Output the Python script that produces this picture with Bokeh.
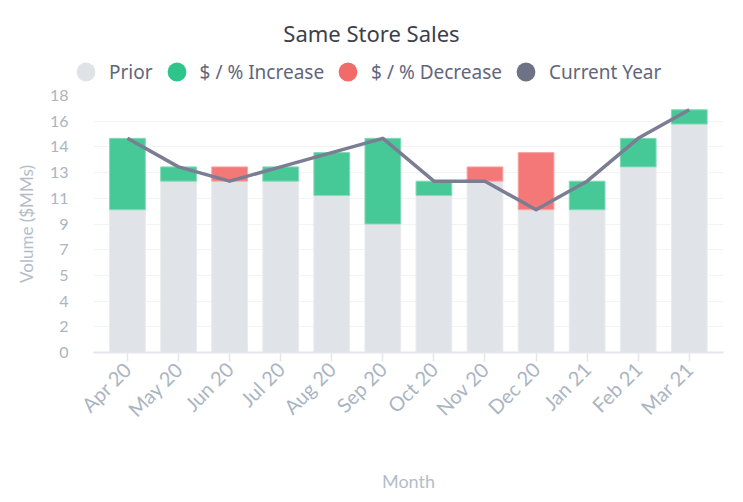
import numpy as np
from bokeh.plotting import figure
from bokeh.models import (ColumnDataSource, FixedTicker, Legend, LegendItem,
                          Range1d, Label)
from bokeh.embed import file_html
from bokeh.resources import INLINE

# ---------------- data ----------------
months = ["Apr 20", "May 20", "Jun 20", "Jul 20", "Aug 20", "Sep 20",
          "Oct 20", "Nov 20", "Dec 20", "Jan 21", "Feb 21", "Mar 21"]
prior = [10, 12, 13, 12, 11, 9, 11, 13, 14, 10, 13, 16]
current = [15, 13, 12, 13, 14, 15, 12, 12, 10, 12, 15, 17]
y_tick_values = [0, 1.8, 3.6, 5.4, 7.2, 9, 10.8, 12.6, 14.4, 16.2, 18]
y_tick_labels = ["0", "2", "4", "5", "7", "9", "11", "13", "14", "16", "18"]
legend_labels = ["Prior", "$ / % Increase", "$ / % Decrease", "Current Year"]
title_text = "Same Store Sales"

# ---------------- derived ----------------
xs = np.arange(len(months))
pr = np.array(prior, dtype=float)
cu = np.array(current, dtype=float)
base = np.minimum(pr, cu)
inc = cu > pr
dec = cu < pr

src_base = ColumnDataSource(dict(x=xs, top=base))
src_inc = ColumnDataSource(dict(x=xs[inc], bottom=pr[inc], top=cu[inc]))
src_dec = ColumnDataSource(dict(x=xs[dec], bottom=cu[dec], top=pr[dec]))
src_line = ColumnDataSource(dict(x=xs, y=cu))

W = 735
TOP_H = 86
MAIN_H = 408

# ---------------- header (title + legend) ----------------
top = figure(width=W, height=TOP_H,
             x_range=Range1d(-0.665, len(months) - 1 + 0.67), y_range=Range1d(0, 18),
             output_backend="svg", toolbar_location=None,
             x_axis_location=None, y_axis_location=None,
             min_border=0, min_border_left=0, min_border_right=0,
             min_border_top=0, min_border_bottom=0)
top.title = None
top.outline_line_color = None
top.xgrid.visible = False
top.ygrid.visible = False

top.add_layout(Label(x=371, y=TOP_H - 32, x_units="screen", y_units="screen",
                     text=title_text, text_align="center", text_baseline="middle",
                     text_font="Noto Sans", text_font_size="22px",
                     text_color="#3d404c"))

leg_colors = ["#dfe2e6", "#2fc48b", "#f26b6b", "#6f7287"]
items = []
for lab, col in zip(legend_labels, leg_colors):
    r = top.scatter(x="x", y="y", source=src_line, marker="circle", size=19,
                    fill_color=col, line_alpha=0, visible=False)
    items.append(LegendItem(label=lab, renderers=[r]))

legend = Legend(items=items, orientation="horizontal",
                glyph_width=47, glyph_height=47, label_standoff=0,
                spacing=0, padding=0, margin=0,
                border_line_alpha=0, background_fill_alpha=0,
                label_text_font="Noto Sans", label_text_font_size="19px",
                label_text_color="#62667b", location=(62, -9))
top.add_layout(legend, "center")

# ---------------- main chart ----------------
p = figure(width=W, height=MAIN_H,
           x_range=Range1d(-0.665, len(months) - 1 + 0.67),
           y_range=Range1d(0, 18),
           output_backend="svg", toolbar_location=None,
           min_border_left=93, min_border_right=12,
           min_border_top=9, min_border_bottom=142)
p.title = None
p.outline_line_color = None

bw = 0.7
p.vbar(x="x", bottom=0, top="top", width=bw, source=src_base,
       fill_color="#e0e3e7", line_color="#e9ebee", line_width=1)
p.vbar(x="x", bottom="bottom", top="top", width=bw, source=src_inc,
       fill_color="#47c897", line_color="#82d9b7", line_width=1)
p.vbar(x="x", bottom="bottom", top="top", width=bw, source=src_dec,
       fill_color="#f47878", line_color="#f8a6a6", line_width=1)
p.line(x="x", y="y", source=src_line, line_color="#7b7e92", line_width=3.5,
       line_join="round")

# y axis
ya = p.yaxis[0]
ya.ticker = FixedTicker(ticks=y_tick_values)
ya.major_label_overrides = {v: l for v, l in zip(y_tick_values, y_tick_labels)}
ya.axis_line_alpha = 0
ya.major_tick_out = 0
ya.major_tick_in = 0
ya.minor_tick_out = 0
ya.minor_tick_in = 0
ya.major_label_standoff = 25
ya.major_label_text_font = "Lato"
ya.major_label_text_font_size = "16px"
ya.major_label_text_color = "#aab5c3"
ya.axis_label = "Volume ($MMs)"
ya.axis_label_text_font = "Lato"
ya.axis_label_text_font_size = "17px"
ya.axis_label_text_font_style = "normal"
ya.axis_label_text_color = "#b3bdc9"
ya.axis_label_standoff = 10

# x axis
xa = p.xaxis[0]
xa.ticker = FixedTicker(ticks=list(xs))
xa.major_label_overrides = {int(i): m for i, m in zip(xs, months)}
xa.major_label_orientation = np.pi / 4
xa.major_label_text_font = "Lato"
xa.major_label_text_font_size = "20px"
xa.major_label_text_color = "#aab5c3"
xa.major_label_standoff = 4
xa.axis_line_color = "#e3e6ea"
xa.axis_line_width = 2
xa.major_tick_out = 9
xa.major_tick_in = 0
xa.major_tick_line_color = "#e3e6ea"
xa.major_tick_line_width = 1.5
xa.minor_tick_out = 0
xa.minor_tick_in = 0
xa.axis_label = "Month"
xa.axis_label_text_font = "Lato"
xa.axis_label_text_font_size = "18px"
xa.axis_label_text_font_style = "normal"
xa.axis_label_text_color = "#b3bdc9"
xa.axis_label_standoff = 37

p.xgrid.visible = False
p.ygrid.grid_line_color = "#f2f3f5"
p.ygrid.grid_line_width = 1

open("out.html", "w").write(file_html([top, p], INLINE))
